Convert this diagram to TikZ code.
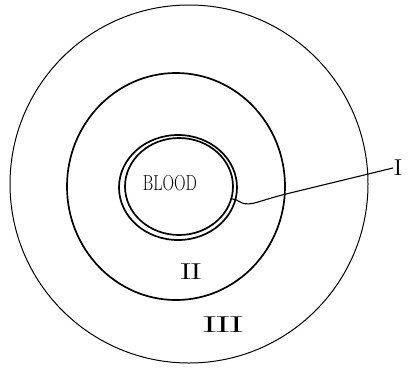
\documentclass[tikz,border=0pt]{standalone}
\usepackage{graphicx}
\usetikzlibrary{shapes.geometric}
\begin{document}
\begin{tikzpicture}[x=1pt,y=-1pt,
  ring/.style={draw=black, line width=1.7pt},
  thinring/.style={draw=black, line width=1pt},
  lbl/.style={inner sep=0pt, font=\fontsize{16}{18}\selectfont},
  numeral/.style={inner sep=0pt, font=\fontsize{23}{25}\selectfont},
  pointer/.style={draw=black, line width=1.1pt, line cap=round}]
\useasboundingbox (0,0) rectangle (409,367);
\fill[white] (0,0) rectangle (409,367);
% outer circle (III)
\draw[thinring] (189,184) ellipse [x radius=179, y radius=179];
% middle circle (II)
\draw[ring] (176,186.5) ellipse [x radius=109, y radius=113.5];
% inner double ring (I)
\draw[ring] (178,187.5) ellipse [x radius=59, y radius=52.5];
\draw[ring] (179,186.5) ellipse [x radius=54, y radius=48.5];
% labels
\node[lbl] (blood) at (170,183) {\scalebox{1}[1.35]{BLOOD}};
\node[numeral] (labI) at (398,168) {\scalebox{1.3}[1]{I}};
\node[numeral] (labII) at (191,272) {\scalebox{1.7}[1]{I\kern-1.5pt I}};
\node[numeral] (labIII) at (223,325) {\scalebox{2.2}[1]{I\kern-1.5pt I\kern-1.5pt I}};
% pointer to the inner ring
\coordinate (tip) at (232,199);
\draw[pointer] (labI.west) -- (286,194) .. controls (258,201) and (252,206) .. (242,203) .. controls (238,201) and (236,199) .. (tip);
\end{tikzpicture}
\end{document}
